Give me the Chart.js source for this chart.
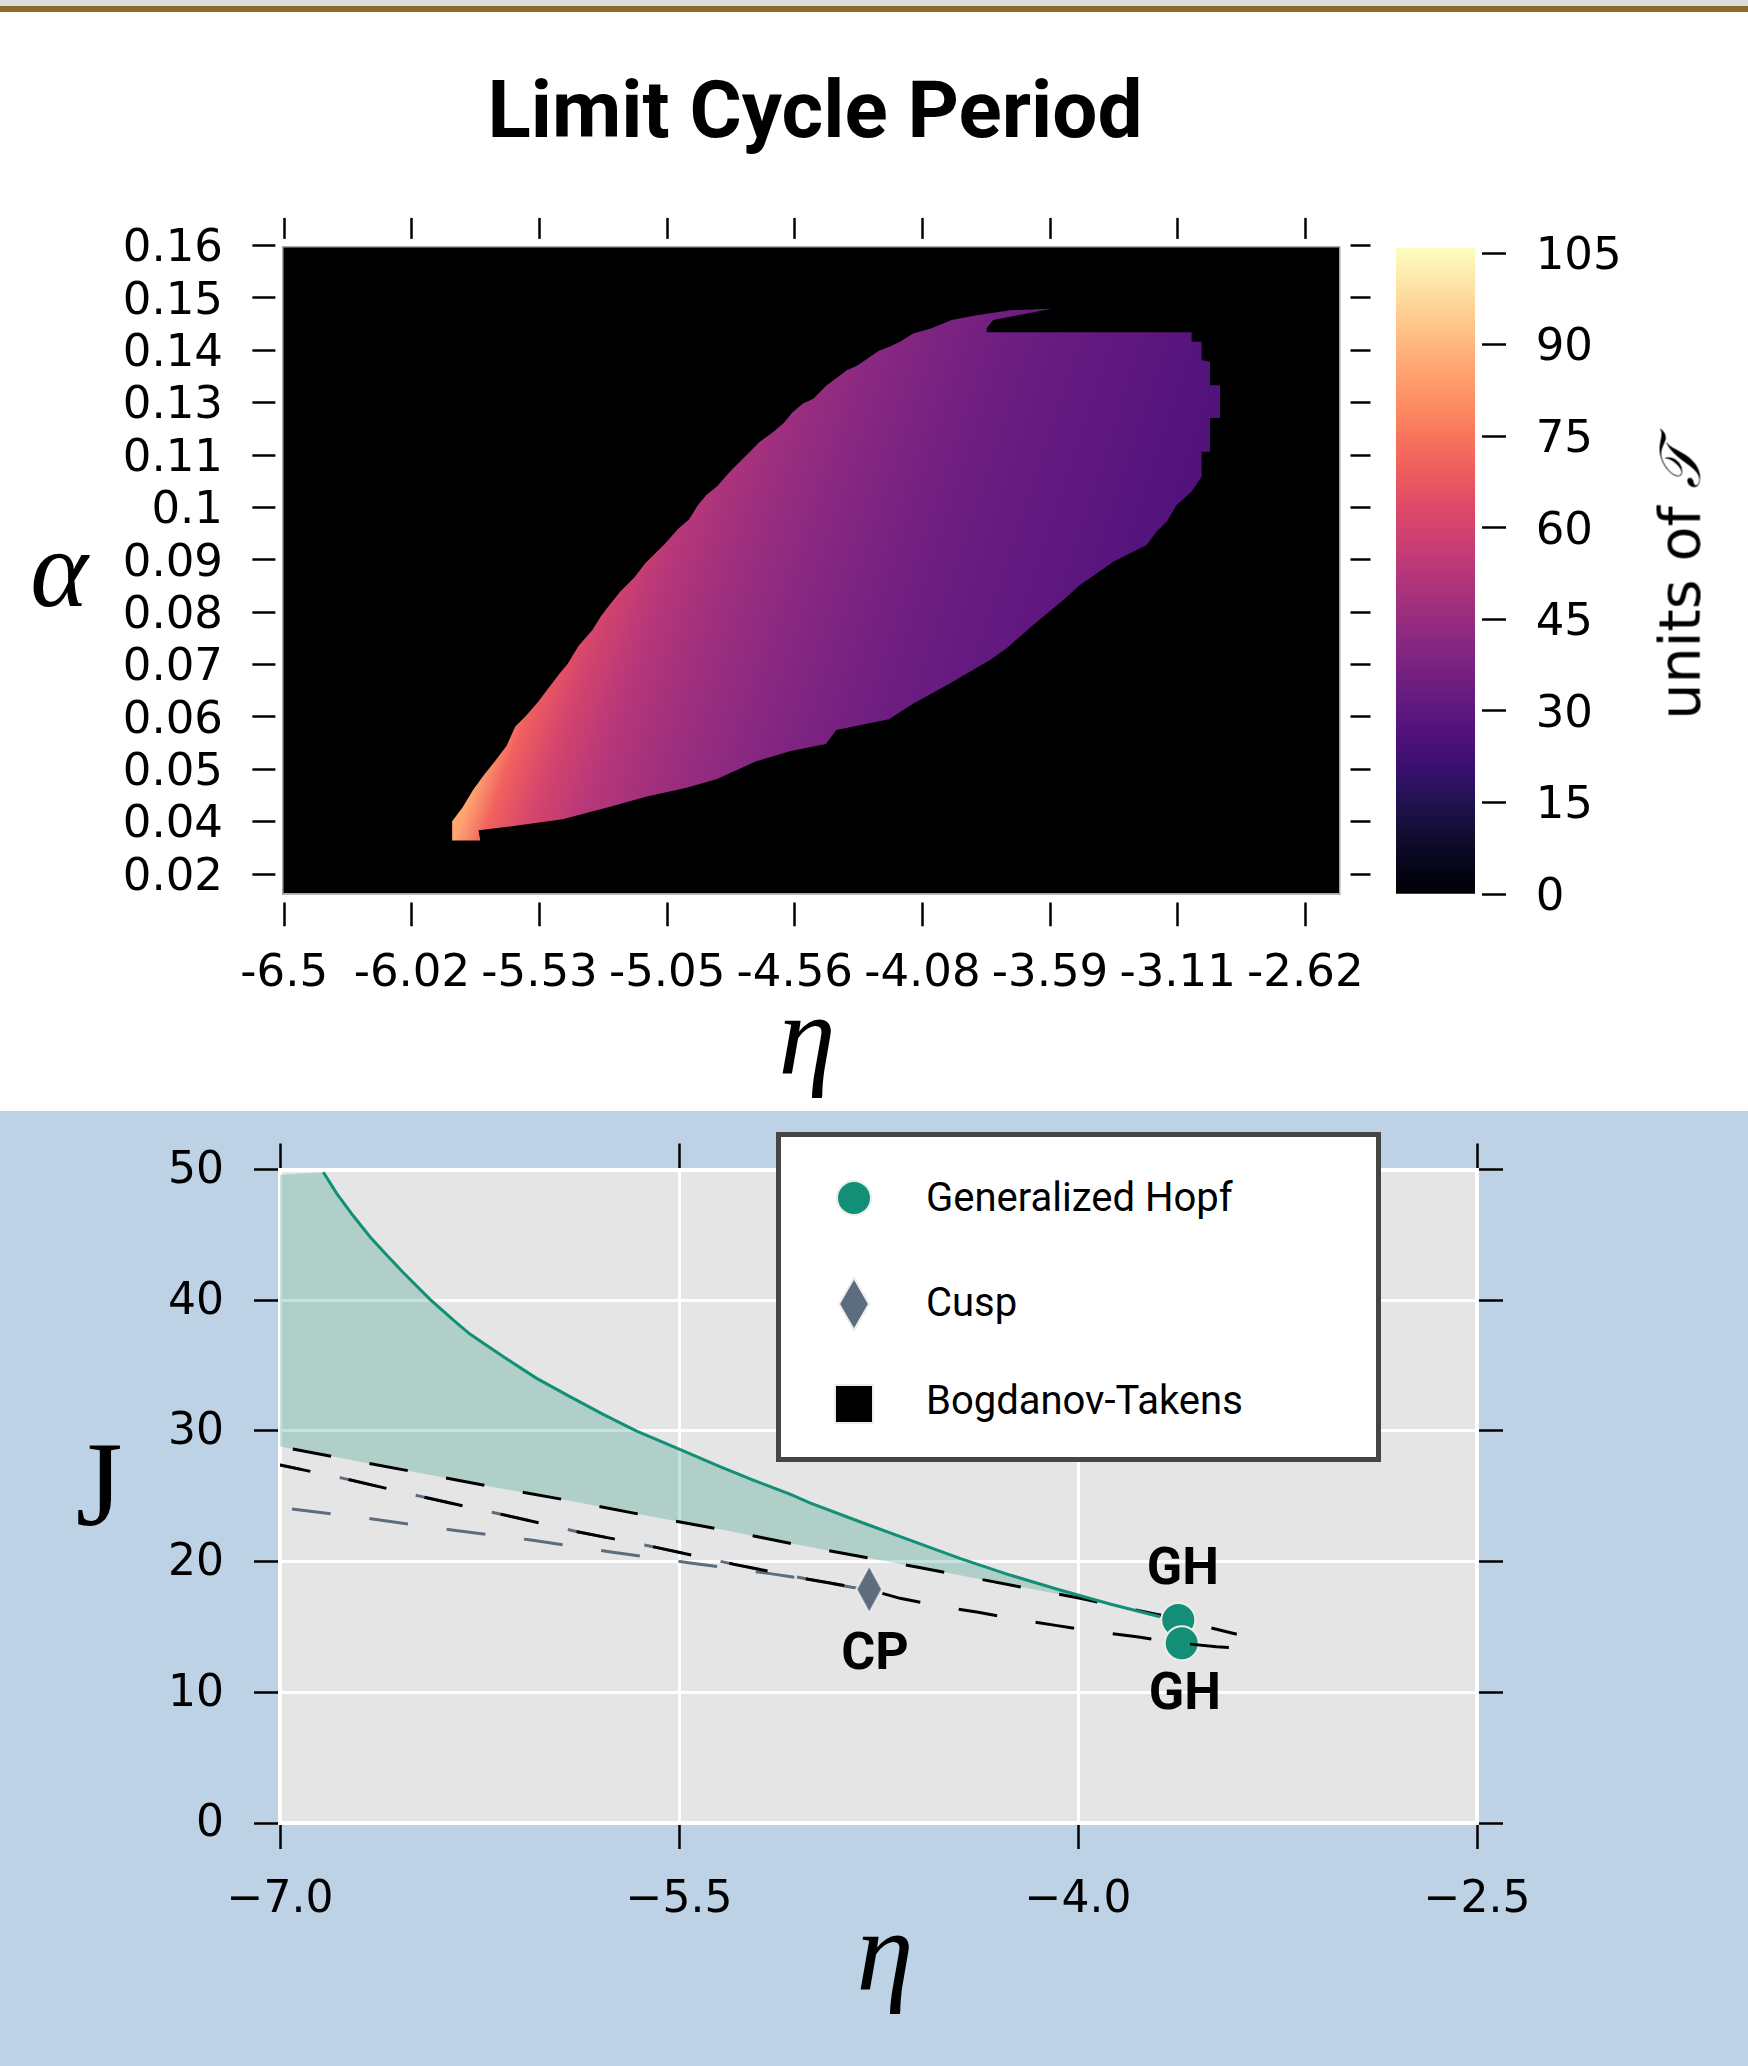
<!DOCTYPE html>
<html>
<head>
<meta charset="utf-8">
<script src="https://cdn.jsdelivr.net/npm/chart.js@4.4.1/dist/chart.umd.min.js"></script>
<style>
  body { margin: 0; width: 1748px; height: 2066px; position: relative; overflow: hidden; background: #fff; font-family: 'DejaVu Sans'; }
  .abs { position: absolute; }
  .math { font-family: 'Liberation Serif'; font-style: italic; line-height: 1; white-space: nowrap; text-align: center; }
  .leg { font: 40px Roboto; line-height: 1; white-space: nowrap; color: #000; }
</style>
</head>
<body>
<div class="abs" style="left:0;top:0;width:1748px;height:6px;background:#dcdcdc"></div>
<div class="abs" style="left:0;top:6px;width:1748px;height:6px;background:#8b6b2b"></div>
<div class="abs" style="left:0;top:70px;width:1630px;text-align:center;font:bold 80px Roboto;line-height:1">Limit Cycle Period</div>

<div class="abs" style="left:0;top:150px"><canvas id="heat" width="1390" height="900"></canvas></div>
<div class="abs" style="left:1380px;top:150px"><canvas id="cbar" width="368" height="900"></canvas></div>

<div class="abs math" style="left:-41px;top:514px;width:200px;font-size:110px">α</div>
<div class="abs math" style="left:707px;top:978px;width:200px;font-size:115px">η</div>
<div class="abs" style="left:1680px;top:582px;transform:translate(-50%,-50%) rotate(-90deg);font:57px 'DejaVu Sans';line-height:1;white-space:nowrap">units of <span style="font-family:'Liberation Serif';font-style:italic">𝒯</span></div>

<div class="abs" style="left:0;top:1111px;width:1748px;height:955px;background:#bed2e6">
  <canvas id="bif" width="1748" height="955"></canvas>
</div>
<div class="abs math" style="left:-1px;top:1425px;width:200px;font-size:120px;font-style:normal">J</div>
<div class="abs math" style="left:785px;top:1894px;width:200px;font-size:115px">η</div>

<div class="abs" id="legend" style="left:776px;top:1132px;width:595px;height:320px;border:5px solid #454545;background:#fff"></div>

<script>
// ---- top panel: limit cycle period over (eta, alpha) ----
const etaTicks = [-6.5, -6.015, -5.53, -5.045, -4.56, -4.075, -3.59, -3.105, -2.62];
const etaTickLabels = ['-6.5', '-6.02', '-5.53', '-5.05', '-4.56', '-4.08', '-3.59', '-3.11', '-2.62'];
const alphaTicks = [0.16, 0.14833, 0.13667, 0.125, 0.11333, 0.10167, 0.09, 0.07833, 0.06667, 0.055, 0.04333, 0.03167, 0.02];
const alphaTickLabels = ['0.16', '0.15', '0.14', '0.13', '0.11', '0.1', '0.09', '0.08', '0.07', '0.06', '0.05', '0.04', '0.02'];

// edge of the region that has a limit cycle, traced round from the lower left tip
const regionEta = [-5.862, -5.862, -5.822, -5.782, -5.742, -5.695, -5.655, -5.622, -5.582, -5.535,
  -5.495, -5.455, -5.422, -5.382, -5.329, -5.296, -5.255, -5.222, -5.169, -5.129,
  -5.055, -5.002, -4.962, -4.929, -4.895, -4.855, -4.802, -4.735, -4.695, -4.642,
  -4.602, -4.569, -4.529, -4.489, -4.442, -4.362, -4.322, -4.242, -4.198, -4.160,
  -4.110, -4.040, -3.964, -3.869, -3.742, -3.584, -3.717, -3.806, -3.831, -3.831,
  -3.052, -3.052, -3.014, -3.014, -2.982, -2.982, -2.944, -2.944, -2.982, -2.982,
  -3.014, -3.014, -3.052, -3.109, -3.147, -3.185, -3.223, -3.349, -3.476, -3.546,
  -3.654, -3.755, -3.818, -3.976, -4.109, -4.202, -4.402, -4.442, -4.575, -4.709,
  -4.855, -4.975, -5.122, -5.269, -5.442, -5.642, -5.762, -5.755];
const regionAlpha = [0.0275, 0.0318, 0.0349, 0.0388, 0.0420, 0.0455, 0.0486, 0.0529, 0.0552, 0.0584,
  0.0615, 0.0646, 0.0669, 0.0708, 0.0744, 0.0775, 0.0806, 0.0830, 0.0861, 0.0892,
  0.0935, 0.0970, 0.0990, 0.1021, 0.1045, 0.1064, 0.1099, 0.1138, 0.1162, 0.1185,
  0.1205, 0.1228, 0.1248, 0.1259, 0.1287, 0.1322, 0.1333, 0.1365, 0.1375, 0.1386,
  0.1404, 0.1416, 0.1434, 0.1445, 0.1456, 0.1459, 0.1444, 0.1434, 0.1416, 0.1407,
  0.1407, 0.1386, 0.1386, 0.1345, 0.1341, 0.1289, 0.1289, 0.1216, 0.1216, 0.1141,
  0.1141, 0.1085, 0.1052, 0.1022, 0.0985, 0.0963, 0.0933, 0.0896, 0.0844, 0.0807,
  0.0755, 0.0703, 0.0677, 0.0623, 0.0580, 0.0545, 0.0521, 0.0490, 0.0474, 0.0451,
  0.0412, 0.0392, 0.0373, 0.0349, 0.0322, 0.0306, 0.0298, 0.0275];

// period read along a transect from the bright tip towards the lower right
const transectFrom = [-5.842, 0.0294];
const transectTo = [-3.566, -0.015];
const transectPos = [0, 0.044, 0.103, 0.182, 0.282, 0.381, 0.476, 0.578, 0.676, 0.777, 0.875, 1];
const transectPeriod = [86, 70, 61, 53, 47, 42, 38, 34.5, 32, 30, 27.5, 25.5];

const periodTicks = [0, 15, 30, 45, 60, 75, 90, 105];
const periodMax = 105.9;

// ---- bottom panel: bifurcation curves in (eta, J) ----
const bifEtaTicks = [-7, -5.5, -4, -2.5];
const bifEtaLabels = ['\u22127.0', '\u22125.5', '\u22124.0', '\u22122.5'];
const jTicks = [0, 10, 20, 30, 40, 50];

const tealEta = [-6.837, -6.787, -6.724, -6.662, -6.599, -6.536, -6.436, -6.348, -6.286, -6.160,
  -6.035, -5.910, -5.785, -5.659, -5.506, -5.346, -5.221, -5.083, -5.008, -4.820,
  -4.632, -4.444, -4.256, -4.068, -3.880, -3.692];
const tealJ = [49.79, 48.18, 46.44, 44.86, 43.46, 42.10, 40.07, 38.48, 37.41, 35.68,
  34.02, 32.62, 31.27, 29.99, 28.67, 27.26, 26.24, 25.17, 24.50, 23.05,
  21.65, 20.25, 18.97, 17.83, 16.76, 15.78];
const fillCorner = [-7.0, 49.6];

const dashUpEta = [-7.0, -6.499, -6.204, -5.910, -5.615, -5.321, -5.083, -4.582, -3.992, -3.692, -3.403];
const dashUpJ = [28.8, 26.88, 25.73, 24.66, 23.49, 22.37, 21.40, 19.49, 17.19, 15.91, 14.44];

const branchAEta = [-7.0, -6.762, -6.467, -6.173, -5.882, -5.586, -5.292, -5.014, -4.785, -4.669, -4.521, -4.375, -4.228, -4.078, -3.930, -3.779, -3.632, -3.479, -3.332];
const branchAJ = [27.39, 26.37, 24.97, 23.64, 22.29, 21.09, 19.79, 18.65, 17.85, 17.19, 16.60, 16.12, 15.58, 15.10, 14.64, 14.25, 13.79, 13.49, 13.31];

const branchBEta = [-6.955, -6.652, -6.354, -6.056, -5.762, -5.465, -5.164, -5.014, -4.851, -4.785];
const branchBJ = [24.02, 23.26, 22.42, 21.65, 20.76, 19.92, 19.10, 18.65, 18.03, 17.85];

const ghEta = [-3.623, -3.610];
const ghJ = [15.53, 13.75];
const cpEta = [-4.785];
const cpJ = [17.88];

const noteText = ['GH', 'CP', 'GH'];
const noteEta = [-3.606, -4.763, -3.598];
const noteJ = [19.25, 12.8, 9.7];

const legendLabels = ['Generalized Hopf', 'Cusp', 'Bogdanov-Takens'];

// magma colormap
const magmaLut = ['#000004', '#07061c', '#140e36', '#251255', '#3b0f70', '#51127c', '#641a80', '#782281',
  '#8c2981', '#a1307e', '#b73779', '#cd4071', '#de4968', '#ee5b5e', '#f7705c', '#fc8961', '#fe9f6d',
  '#feb77e', '#fecf92', '#fde7a9', '#fcfdbf'];

function hexRgb(h) {
  return [parseInt(h.slice(1, 3), 16), parseInt(h.slice(3, 5), 16), parseInt(h.slice(5, 7), 16)];
}

function magma(t) {
  t = Math.min(1, Math.max(0, t));
  const f = t * (magmaLut.length - 1);
  const i = Math.min(magmaLut.length - 2, Math.floor(f));
  const a = hexRgb(magmaLut[i]), b = hexRgb(magmaLut[i + 1]);
  const u = f - i;
  return 'rgb(' + a.map((v, k) => Math.round(v + (b[k] - v) * u)).join(',') + ')';
}

Chart.defaults.font.family = 'DejaVu Sans';
Chart.defaults.color = '#000';
Chart.defaults.animation = false;

const areaFill = {
  id: 'areaFill',
  beforeDraw(chart, args, opts) {
    const {ctx, chartArea: a} = chart;
    ctx.save();
    ctx.fillStyle = opts.color;
    ctx.fillRect(a.left, a.top, a.width, a.height);
    ctx.restore();
  }
};

function periodGradient(chart) {
  const {ctx, chartArea, scales} = chart;
  if (!chartArea) return 'rgba(0,0,0,0)';
  const g = ctx.createLinearGradient(
    scales.x.getPixelForValue(transectFrom[0]), scales.y.getPixelForValue(transectFrom[1]),
    scales.x.getPixelForValue(transectTo[0]), scales.y.getPixelForValue(transectTo[1]));
  transectPos.forEach((p, i) => g.addColorStop(p, magma(transectPeriod[i] / periodMax)));
  return g;
}

function tickAxis(pos, extra) {
  return Object.assign({
    type: 'linear',
    position: pos,
    border: {display: true, color: '#a8a8a8', width: 1.5},
    grid: {drawOnChartArea: false, tickColor: '#000', tickWidth: 2.5},
    ticks: {display: false, autoSkip: false, maxRotation: 0, minRotation: 0, font: {size: 45}}
  }, extra);
}

new Chart(document.getElementById('heat'), {
  type: 'scatter',
  data: {
    datasets: [{
      data: regionEta.map((x, i) => ({x, y: regionAlpha[i]})),
      showLine: true,
      fill: 'shape',
      borderColor: 'rgba(0,0,0,0)',
      borderWidth: 0,
      pointRadius: 0,
      backgroundColor: c => periodGradient(c.chart)
    }]
  },
  options: {
    responsive: false,
    events: [],
    layout: {padding: 0},
    plugins: {legend: {display: false}, tooltip: {enabled: false}, areaFill: {color: '#000'}},
    scales: {
      x: tickAxis('bottom', {
        min: -6.507, max: -2.49,
        afterBuildTicks: a => { a.ticks = etaTicks.map(v => ({value: v})); },
        afterFit: s => { s.height = 155.8; },
        grid: {drawOnChartArea: false, tickColor: '#000', tickWidth: 2.5, tickLength: 32, tickBorderDash: [0, 8, 24, 200]},
        ticks: {display: true, autoSkip: false, maxRotation: 0, minRotation: 0, font: {size: 45}, padding: 21,
          callback: (v, i) => etaTickLabels[i]}
      }),
      x2: tickAxis('top', {
        min: -6.507, max: -2.49,
        afterBuildTicks: a => { a.ticks = etaTicks.map(v => ({value: v})); },
        afterFit: s => { s.height = 96.9; },
        grid: {drawOnChartArea: false, tickColor: '#000', tickWidth: 2.5, tickLength: 29, tickBorderDash: [21, 200]}
      }),
      y: tickAxis('left', {
        min: 0.01553, max: 0.1597,
        afterBuildTicks: a => { a.ticks = alphaTicks.map(v => ({value: v})); },
        afterFit: s => { s.width = 282.4; },
        grid: {drawOnChartArea: false, tickColor: '#000', tickWidth: 2.5, tickLength: 30, tickBorderDash: [23, 200]},
        ticks: {display: true, autoSkip: false, font: {size: 45}, padding: 29.4, labelOffset: 4,
          callback: (v, i) => alphaTickLabels[i]}
      }),
      y2: tickAxis('right', {
        min: 0.01553, max: 0.1597,
        afterBuildTicks: a => { a.ticks = alphaTicks.map(v => ({value: v})); },
        afterFit: s => { s.width = 50.5; },
        grid: {drawOnChartArea: false, tickColor: '#000', tickWidth: 2.5, tickLength: 31, tickBorderDash: [0, 10, 21, 200]}
      })
    }
  },
  plugins: [areaFill]
});

// colour bar
new Chart(document.getElementById('cbar'), {
  type: 'bar',
  data: {
    labels: [''],
    datasets: [{
      data: [[0, periodMax]],
      barPercentage: 1,
      categoryPercentage: 1,
      borderWidth: 0,
      backgroundColor: c => {
        const {ctx, chartArea, scales} = c.chart;
        if (!chartArea) return 'rgba(0,0,0,0)';
        const g = ctx.createLinearGradient(0, scales.y.getPixelForValue(0), 0, scales.y.getPixelForValue(periodMax));
        magmaLut.forEach((col, i) => g.addColorStop(i / (magmaLut.length - 1), col));
        return g;
      }
    }]
  },
  options: {
    responsive: false,
    events: [],
    layout: {padding: {left: 16, top: 97.7, bottom: 156, right: 0}},
    plugins: {legend: {display: false}, tooltip: {enabled: false}},
    scales: {
      x: {display: false},
      y: {
        position: 'right', min: 0, max: periodMax,
        afterBuildTicks: a => { a.ticks = periodTicks.map(v => ({value: v})); },
        afterFit: s => { s.width = 273; },
        border: {display: false},
        grid: {drawOnChartArea: false, tickColor: '#000', tickWidth: 2.5, tickLength: 31, tickBorderDash: [0, 7, 24, 200]},
        ticks: {autoSkip: false, font: {size: 45}, padding: 29.7, labelOffset: 4}
      }
    }
  }
});

// ---- bottom panel ----
function diamondImage(w, h) {
  const c = document.createElement('canvas');
  c.width = w + 4; c.height = h + 4;
  const g = c.getContext('2d');
  g.beginPath();
  g.moveTo(c.width / 2, 2); g.lineTo(c.width - 2, c.height / 2);
  g.lineTo(c.width / 2, c.height - 2); g.lineTo(2, c.height / 2);
  g.closePath();
  g.fillStyle = '#5d6d7e'; g.fill();
  g.lineWidth = 2; g.strokeStyle = '#ececec'; g.stroke();
  return c;
}

const pts = (xs, ys) => xs.map((x, i) => ({x, y: ys[i]}));
const lastTeal = tealEta[tealEta.length - 1];
const fillShape = [{x: fillCorner[0], y: fillCorner[1]}]
  .concat(pts(tealEta, tealJ))
  .concat(pts(dashUpEta, dashUpJ).filter(p => p.x <= lastTeal + 1e-9).reverse());
const cpIndex = branchAEta.indexOf(cpEta[0]);

const noteLabels = {
  id: 'noteLabels',
  afterDatasetsDraw(chart) {
    const {ctx, scales: {x, y}} = chart;
    ctx.save();
    ctx.font = 'bold 52px Roboto';
    ctx.fillStyle = '#000';
    ctx.textAlign = 'center';
    ctx.textBaseline = 'middle';
    noteText.forEach((t, i) => ctx.fillText(t, x.getPixelForValue(noteEta[i]), y.getPixelForValue(noteJ[i])));
    ctx.restore();
  }
};

function bifAxis(pos, extra) {
  const horiz = pos === 'top' || pos === 'bottom';
  return Object.assign({
    type: 'linear',
    position: pos,
    min: horiz ? -7 : 0,
    max: horiz ? -2.5 : 50,
    afterBuildTicks: a => { a.ticks = (horiz ? bifEtaTicks : jTicks).map(v => ({value: v})); },
    border: {display: true, color: '#fff', width: 4},
    grid: {drawOnChartArea: false, tickColor: '#000', tickWidth: 2.5, tickLength: 26},
    ticks: {display: false}
  }, extra);
}

new Chart(document.getElementById('bif'), {
  type: 'scatter',
  data: {
    datasets: [
      {data: fillShape, showLine: true, fill: 'shape', backgroundColor: 'rgba(18,143,118,0.25)',
        borderColor: 'rgba(0,0,0,0)', borderWidth: 0, pointRadius: 0, order: 7},
      {data: pts(branchBEta, branchBJ), showLine: true, borderColor: '#5d6d7e', borderWidth: 3,
        borderDash: [39, 39], pointRadius: 0, order: 6},
      {data: pts(branchAEta.slice(0, cpIndex + 1), branchAJ.slice(0, cpIndex + 1)), showLine: true,
        borderColor: '#5d6d7e', borderWidth: 3, borderDash: [39, 39], borderDashOffset: 17, pointRadius: 0, order: 5},
      {data: pts(dashUpEta, dashUpJ), showLine: true, borderColor: '#000', borderWidth: 3,
        borderDash: [39, 39], borderDashOffset: 65, pointRadius: 0, order: 4},
      {data: pts(tealEta, tealJ), showLine: true, borderColor: '#128f76', borderWidth: 3, pointRadius: 0, order: 3},
      {data: pts(ghEta, ghJ), pointStyle: 'circle', pointRadius: 17, pointBackgroundColor: '#128f76',
        pointBorderColor: '#ececec', pointBorderWidth: 2, order: 2},
      {data: pts(branchAEta, branchAJ), showLine: true, borderColor: '#000', borderWidth: 3,
        borderDash: [39, 39], borderDashOffset: 8, pointRadius: 0, order: 1},
      {data: pts(cpEta, cpJ), pointStyle: diamondImage(26, 48), pointRadius: 24, order: 0}
    ]
  },
  options: {
    responsive: false,
    events: [],
    layout: {padding: 0},
    plugins: {legend: {display: false}, tooltip: {enabled: false}, areaFill: {color: '#e5e5e5'}},
    scales: {
      x: bifAxis('bottom', {
        afterFit: s => { s.height = 243; },
        grid: {color: '#fff', lineWidth: 3, tickColor: '#000', tickWidth: 2.5, tickLength: 26},
        ticks: {autoSkip: false, maxRotation: 0, minRotation: 0, font: {size: 44}, padding: 25,
          callback: (v, i) => bifEtaLabels[i]}
      }),
      x2: bifAxis('top', {afterFit: s => { s.height = 58.5; }}),
      y: bifAxis('left', {
        afterFit: s => { s.width = 280; },
        grid: {color: '#fff', lineWidth: 3, tickColor: '#000', tickWidth: 2.5, tickLength: 26},
        ticks: {autoSkip: false, font: {size: 44}, padding: 30, labelOffset: 2}
      }),
      y2: bifAxis('right', {afterFit: s => { s.width = 271; }})
    }
  },
  plugins: [areaFill, noteLabels]
});

// legend box
const markers = [
  '<svg width="40" height="40"><circle cx="20" cy="20" r="17" fill="#128f76" stroke="#ececec" stroke-width="2"/></svg>',
  '<svg width="34" height="56"><polygon points="17,2 32,28 17,54 2,28" fill="#5d6d7e" stroke="#ececec" stroke-width="2"/></svg>',
  '<svg width="42" height="42"><rect x="2" y="2" width="38" height="38" fill="#000" stroke="#ececec" stroke-width="2"/></svg>'
];
const rowY = [1198, 1304, 1404];
const baseY = [1211.6, 1316.5, 1414.7];
legendLabels.forEach((t, i) => {
  const m = document.createElement('div');
  m.className = 'abs';
  m.style.left = '854px'; m.style.top = rowY[i] + 'px';
  m.style.transform = 'translate(-50%,-50%)';
  m.style.lineHeight = '0';
  m.innerHTML = markers[i];
  document.body.appendChild(m);
  const d = document.createElement('div');
  d.className = 'abs leg';
  d.style.left = '926px'; d.style.top = (baseY[i] - 33.7) + 'px';
  d.textContent = t;
  document.body.appendChild(d);
});
</script>
</body>
</html>
